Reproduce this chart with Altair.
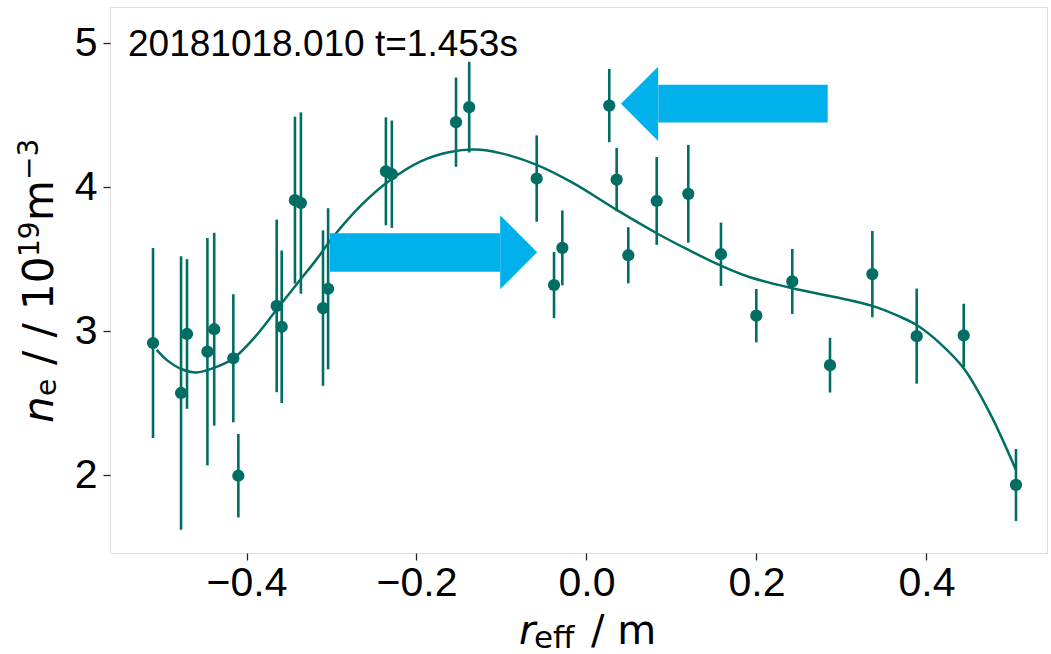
import altair as alt
import pandas as pd

# ---- measured data -------------------------------------------------------
r_eff = [-0.510, -0.477, -0.470, -0.446, -0.438, -0.4155, -0.4096, -0.3645, -0.3586,
         -0.343, -0.336, -0.310, -0.304, -0.236, -0.229, -0.1535, -0.138, -0.0586,
         -0.0382, -0.0284, 0.0268, 0.0355, 0.0492, 0.0826, 0.1198, 0.1582, 0.1998,
         0.2421, 0.2865, 0.3363, 0.3885, 0.4438, 0.5053]
n_e = [2.917, 2.57, 2.98, 2.857, 3.013, 2.811, 1.995, 3.175, 3.03,
       3.91, 3.89, 3.16, 3.294, 4.11, 4.09, 4.452, 4.556, 4.06,
       3.32, 3.578, 4.567, 4.053, 3.527, 3.904, 3.954, 3.534, 3.107,
       3.345, 2.763, 3.396, 2.965, 2.97, 1.931]
n_err = [0.66, 0.95, 0.52, 0.79, 0.67, 0.445, 0.29, 0.60, 0.53,
         0.58, 0.63, 0.54, 0.56, 0.375, 0.373, 0.31, 0.315, 0.30,
         0.23, 0.26, 0.255, 0.22, 0.195, 0.305, 0.34, 0.22, 0.185,
         0.226, 0.19, 0.30, 0.33, 0.22, 0.25]

fit_r = [-0.5056, -0.494, -0.476, -0.4586, -0.44, -0.4155, -0.39, -0.3645, -0.337,
         -0.3174, -0.298, -0.265, -0.232, -0.195, -0.1606, -0.131, -0.10, -0.0586,
         -0.0155, 0.0355, 0.0826, 0.12, 0.158, 0.1924, 0.2421, 0.2904, 0.3363,
         0.3688, 0.3885, 0.4159, 0.4438, 0.4747, 0.5053]
fit_n = [2.869, 2.80, 2.735, 2.713, 2.741, 2.81, 2.96, 3.15, 3.355,
         3.50, 3.655, 3.875, 4.045, 4.18, 4.245, 4.262, 4.235, 4.155,
         4.028, 3.842, 3.68, 3.564, 3.455, 3.374, 3.298, 3.239, 3.175,
         3.10, 3.042, 2.915, 2.741, 2.428, 2.034]

# block arrows: shaft rectangles and head centres, in data units
shaft_x1 = [-0.3018, 0.0845]
shaft_x2 = [-0.1018, 0.2838]
shaft_y1 = [3.413, 4.449]
shaft_y2 = [3.680, 4.711]
head_x = [-0.0798, 0.0624]
head_y = [3.548, 4.579]
head_dir = ["right", "left"]

x_ticks = [-0.4, -0.2, 0.0, 0.2, 0.4]
y_ticks = [2, 3, 4, 5]
annotation = "20181018.010 t=1.453s"

TEAL = "#006e64"
CYAN = "#00b0ea"

pts = pd.DataFrame({"r": r_eff, "n": n_e, "lo": [a - b for a, b in zip(n_e, n_err)],
                    "hi": [a + b for a, b in zip(n_e, n_err)]})
fit = pd.DataFrame({"r": fit_r, "n": fit_n})
shafts = pd.DataFrame({"r": shaft_x1, "r2": shaft_x2, "n": shaft_y1, "n2": shaft_y2})
heads = pd.DataFrame({"r": head_x, "n": head_y, "dir": head_dir})

xs = alt.Scale(domain=[-0.5606, 0.5418], nice=False, zero=False)
ys = alt.Scale(domain=[1.458, 5.252], nice=False, zero=False)

xaxis = alt.Axis(values=x_ticks, title=None, grid=False, domain=False,
                 labelExpr="replace(format(datum.value, '.1f'), '-', '\u2212')",
                 labelFont="Liberation Sans", labelFontSize=41, labelColor="black",
                 tickSize=7, tickWidth=1.3, tickColor="#222", labelPadding=3)
yaxis = alt.Axis(values=y_ticks, title=None, grid=False, domain=False, format="d",
                 labelFont="Liberation Sans", labelFontSize=41, labelColor="black",
                 tickSize=7, tickWidth=1.3, tickColor="#222", labelPadding=6)

base_x = alt.X("r:Q", scale=xs, axis=xaxis)
base_y = alt.Y("n:Q", scale=ys, axis=yaxis)

err = alt.Chart(pts).mark_rule(color=TEAL, strokeWidth=2.6).encode(
    x=alt.X("r:Q", scale=xs, axis=xaxis),
    y=alt.Y("lo:Q", scale=ys, axis=yaxis),
    y2="hi:Q")
dots = alt.Chart(pts).mark_circle(color=TEAL, opacity=1, size=150).encode(x=base_x, y=base_y)
line = alt.Chart(fit).mark_line(color=TEAL, strokeWidth=2.5,
                                interpolate="catmull-rom").encode(x=base_x, y=base_y)

shaft = alt.Chart(shafts).mark_rect(color=CYAN, opacity=1).encode(
    x=base_x, x2="r2:Q", y=base_y, y2="n2:Q")
head_r = alt.Chart(heads).transform_filter("datum.dir == 'right'").mark_point(
    shape="M -0.5 -1 L 0.5 0 L -0.5 1 Z", filled=True, fill=CYAN, opacity=1,
    strokeWidth=0, size=5476).encode(x=base_x, y=base_y)
head_l = alt.Chart(heads).transform_filter("datum.dir == 'left'").mark_point(
    shape="M 0.5 -1 L -0.5 0 L 0.5 1 Z", filled=True, fill=CYAN, opacity=1,
    strokeWidth=0, size=5520).encode(x=base_x, y=base_y)

dummy = pd.DataFrame({"d": [0]})


def txt(text, x, y, size, font="DejaVu Sans", style="normal", angle=0):
    return alt.Chart(dummy).mark_text(
        text=text, font=font, fontSize=size, fontStyle=style, angle=angle,
        align="left", baseline="alphabetic", color="black").encode(
        x=alt.value(x), y=alt.value(y))


ann = txt(annotation, 18, 49, 37, font="Liberation Sans")

# x-axis title: r_eff / m
xt = [
    txt("r", 409, 637, 40, style="italic"),
    txt("eff", 424, 641, 31),
    txt("/ m", 481, 637, 40),
]
# y-axis title: n_e / / 10^19 m^-3 (rotated, reading upward)
yt = [
    txt("n", -57, 416, 42, style="italic", angle=270),
    txt("e", -54, 389, 28, angle=270),
    txt("/ / 10", -57, 358, 42, angle=270),
    txt("19", -71, 250, 28, angle=270),
    txt("m", -57, 214, 42, angle=270),
    txt("\u22123", -72, 173, 28, angle=270),
]

chart = alt.layer(err, line, dots, shaft, head_r, head_l, ann, *xt, *yt).properties(
    width=937, height=546,
    autosize=alt.AutoSizeParams(type="none"),
    padding={"left": 110, "top": 7, "right": 4, "bottom": 101},
).configure_view(stroke="#222", strokeWidth=1.4).configure(background="white")

chart.save("out.html", embed_options={"renderer": "svg", "actions": False})
